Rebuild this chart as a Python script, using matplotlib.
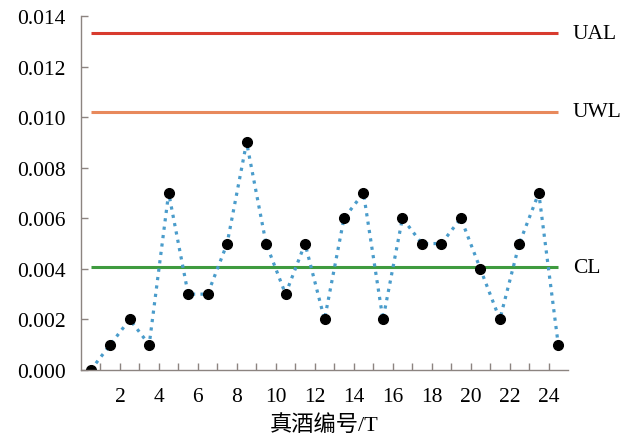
import matplotlib.pyplot as plt
import numpy as np

plt.rcParams['font.family'] = ['Liberation Serif', 'Noto Sans CJK SC']

sample_no = np.arange(1, 26) - 0.5
values = [0.000, 0.001, 0.002, 0.001, 0.007, 0.003, 0.003, 0.005, 0.009, 0.005,
          0.003, 0.005, 0.002, 0.006, 0.007, 0.002, 0.006, 0.005, 0.005, 0.006,
          0.004, 0.002, 0.005, 0.007, 0.001]
limit_names = ['UAL', 'UWL', 'CL']
limit_values = [0.01332, 0.01022, 0.00406]
limit_colors = ['#d83b2e', '#e8895c', '#3f9b3f']

fig = plt.figure(figsize=(6.3, 4.39), dpi=100)
ax = fig.add_axes([0.1286, 0.1549, 0.773, 0.8064])

for name, val, col in zip(limit_names, limit_values, limit_colors):
    ax.plot([0.5, 24.5], [val, val], color=col, lw=2.2, solid_capstyle='butt')
    ax.text(25.25, val, name, fontsize=15.5, va='center', ha='left')

ax.plot(sample_no, values, linestyle=':', color='#4a9ccb', lw=2.3,
        marker='o', markersize=7, markerfacecolor='black', markeredgecolor='black')

ax.set_xlim(0, 25)
ax.set_ylim(0, 0.014)
ax.set_xticks(np.arange(2, 25, 2))
ax.set_xticks(np.arange(1, 25), minor=True)
ax.set_yticks(np.arange(0, 0.0141, 0.002))
ax.yaxis.set_major_formatter(plt.FuncFormatter(lambda v, p: f'{v:.3f}'))

for s in ['top', 'right']:
    ax.spines[s].set_visible(False)
for s in ['left', 'bottom']:
    ax.spines[s].set_color('#8c8480')
    ax.spines[s].set_linewidth(1.0)

ax.tick_params(axis='both', which='both', direction='in', color='#8c8480',
               labelsize=15.5, length=5, width=1.0)
ax.tick_params(axis='x', pad=12)
ax.tick_params(axis='y', pad=11)
ax.set_xlabel('真酒编号/T', fontsize=16, labelpad=6)

fig.savefig('out.png', dpi=100)
